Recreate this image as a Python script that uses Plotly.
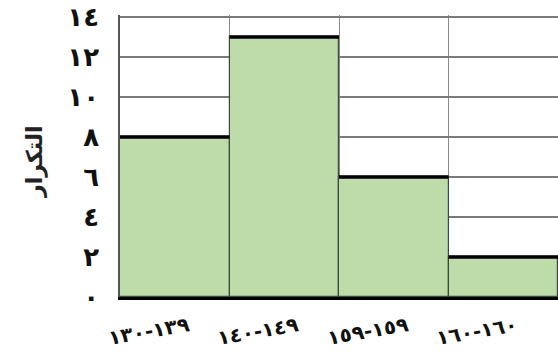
import plotly.graph_objects as go

categories = ["١٣٠\u200e-\u200e١٣٩", "١٤٠\u200e-\u200e١٤٩", "١٥٩\u200e-\u200e١٥٩", "١٦٠\u200e-\u200e١٦٠"]
frequency = [8, 13, 6, 2]
y_tick_values = [0, 2, 4, 6, 8, 10, 12, 14]
y_tick_labels = ["٠", "٢", "٤", "٦", "٨", "١٠", "١٢", "١٤"]
y_title = "التكرار"

n = len(categories)
xs = list(range(n))
edges = [i - 0.5 for i in range(n + 1)]

fig = go.Figure()
fig.add_trace(go.Bar(
    x=xs, y=frequency, width=1,
    marker=dict(color="#bddcaa", line=dict(color="#3a4a3a", width=1.2)),
    hoverinfo="skip", showlegend=False,
))

# thick black line on top of each bar
tx, ty = [], []
for i, v in enumerate(frequency):
    tx += [i - 0.5, i + 0.5, None]
    ty += [v, v, None]
fig.add_trace(go.Scatter(x=tx, y=ty, mode="lines",
                         line=dict(color="#000000", width=3.5),
                         hoverinfo="skip", showlegend=False, cliponaxis=False))

for i, lab in enumerate(categories):
    fig.add_annotation(x=xs[i], y=0, xref="x", yref="y", text="<b>" + lab + "</b>",
                       showarrow=False, textangle=-10, xshift=-26, yshift=-34,
                       font=dict(family="DejaVu Sans", size=20, color="#111111"))

fig.add_annotation(x=-0.5, y=6.75, xref="x", yref="y", text="<b>" + y_title + "</b>",
                   showarrow=False, textangle=-90, xshift=-85,
                   font=dict(family="DejaVu Sans", size=22, color="#222222"))

fig.update_layout(
    width=558, height=356,
    margin=dict(l=120, r=0, t=15, b=59),
    paper_bgcolor="white", plot_bgcolor="white",
    bargap=0,
    xaxis=dict(range=[edges[0], edges[-1]], showticklabels=False, ticks="",
               showgrid=False, zeroline=False,
               showline=True, linecolor="#000000", linewidth=3,
               minor=dict(tickvals=edges, showgrid=True, gridcolor="#8a8a8a",
                          gridwidth=1.2, ticks="")),
    yaxis=dict(range=[0, 14.1], tickvals=y_tick_values, ticktext=y_tick_labels,
               showgrid=True, gridcolor="#7a7a7a", gridwidth=1.6,
               zeroline=False, showline=True, linecolor="#555555", linewidth=1.5,
               ticks="outside", ticklen=14, tickcolor="rgba(0,0,0,0)",
               tickfont=dict(family="DejaVu Sans", size=26, color="#111111",
                             weight="bold")),
)

fig.write_html("out.html")
